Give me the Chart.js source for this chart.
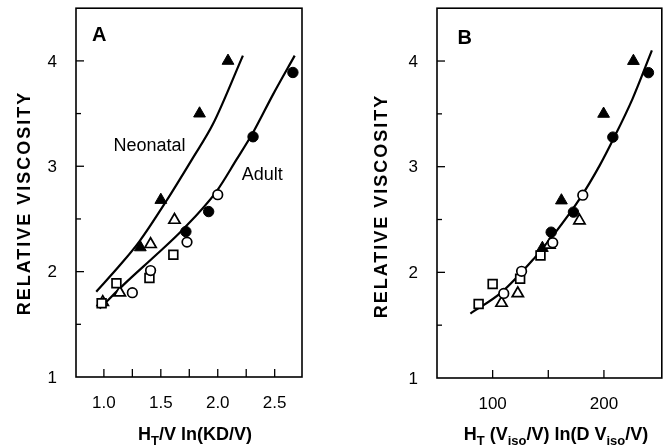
<!DOCTYPE html>
<html>
<head>
<meta charset="utf-8">
<script src="https://cdn.jsdelivr.net/npm/chart.js@4.4.0/dist/chart.umd.min.js"></script>
<style>
  html, body { margin: 0; padding: 0; background: #fff; }
  #wrap { position: relative; width: 670px; height: 447px; }
  canvas { position: absolute; top: 0; }
</style>
</head>
<body>
<div id="wrap">
  <canvas id="chartA" width="335" height="447" style="left:0"></canvas>
  <canvas id="chartB" width="335" height="447" style="left:335px"></canvas>
</div>
<script>
// Relative viscosity of each group (same points in both panels)
const filledTriY    = [2.23, 2.68, 3.50, 4.00];
const openTriY      = [1.71, 1.80, 2.26, 2.49];
const filledCircleY = [2.38, 2.57, 3.28, 3.89];
const openCircleY   = [1.80, 2.01, 2.28, 2.73];
const squareY       = [1.70, 1.89, 1.94, 2.16];

// Panel A: HT/V ln(KD/V)
const aFilledTriX    = [1.32, 1.50, 1.84, 2.09];
const aOpenTriX      = [0.99, 1.14, 1.41, 1.62];
const aFilledCircleX = [1.72, 1.92, 2.31, 2.66];
const aOpenCircleX   = [1.25, 1.41, 1.73, 2.00];
const aSquareX       = [0.98, 1.11, 1.40, 1.61];

// Panel A fitted curves
const neonatalX = [0.933, 1.14, 1.314, 1.548, 1.782, 1.958, 2.221];
const neonatalY = [1.81, 2.06, 2.29, 2.67, 3.08, 3.40, 4.05];
const adultX    = [0.962, 1.197, 1.46, 1.694, 1.988, 2.163, 2.31, 2.485, 2.676];
const adultY    = [1.65, 1.90, 2.16, 2.40, 2.76, 3.06, 3.32, 3.68, 4.05];

// Panel B: HT (Viso/V) ln(D Viso/V)
const bFilledTriX    = [144.7, 161.8, 199.7, 226.5];
const bOpenTriX      = [108.0, 122.6, 151.0, 178.0];
const bFilledCircleX = [152.6, 172.6, 208.0, 240.0];
const bOpenCircleX   = [110.0, 126.0, 154.0, 181.0];
const bSquareX       = [87.4, 100.0, 124.7, 143.0];

// Panel B fitted curve
const fitBX = [80.0, 107.9, 137.1, 155.1, 178.5, 196.1, 207.9, 225.6, 243.1];
const fitBY = [1.61, 1.81, 2.13, 2.36, 2.70, 3.01, 3.25, 3.64, 4.10];

// ticks
const yTicks  = [1, 1.5, 2, 2.5, 3, 3.5, 4];
const yLabels = [1, 2, 3, 4];
const aXTicks  = [1.0, 1.25, 1.5, 1.75, 2.0, 2.25, 2.5];
const aXLabels = [1.0, 1.5, 2.0, 2.5];
const bXTicks  = [100, 150, 200];
const bXLabels = [100, 200];

const FONT = "'Liberation Sans', Arial, Helvetica, sans-serif";

function pts(xs, ys) {
    return xs.map((x, i) => ({ x: x, y: ys[i] }));
}

function markerSets(xs) {
    // xs = [filledTri, openTri, filledCircle, openCircle, square]
    return [
        { data: pts(xs[3], openCircleY), pointStyle: 'circle', pointRadius: 4.8, backgroundColor: '#fff', borderColor: '#000', borderWidth: 1.7 },
        { data: pts(xs[4], squareY), pointStyle: 'rect', pointRadius: 6.2, backgroundColor: '#fff', borderColor: '#000', borderWidth: 1.7 },
        { data: pts(xs[1], openTriY), pointStyle: 'triangle', pointRadius: 6.5, backgroundColor: '#fff', borderColor: '#000', borderWidth: 1.7 },
        { data: pts(xs[2], filledCircleY), pointStyle: 'circle', pointRadius: 5.2, backgroundColor: '#000', borderColor: '#000', borderWidth: 1 },
        { data: pts(xs[0], filledTriY), pointStyle: 'triangle', pointRadius: 6.8, backgroundColor: '#000', borderColor: '#000', borderWidth: 1 }
    ].map(d => Object.assign(d, { order: 1 }));
}

function curveSet(xs, ys) {
    return {
        data: pts(xs, ys), showLine: true, pointRadius: 0, borderColor: '#000',
        borderWidth: 2.2, cubicInterpolationMode: 'monotone', order: 2
    };
}

// draws text with subscripts, centred at cx
function drawRich(ctx, parts, cx, cy, size) {
    const subSize = Math.round(size * 0.72);
    let total = 0;
    parts.forEach(p => {
        ctx.font = 'bold ' + (p.sub ? subSize : size) + 'px ' + FONT;
        p.w = ctx.measureText(p.t).width;
        total += p.w;
    });
    let x = cx - total / 2;
    ctx.textAlign = 'left';
    ctx.textBaseline = 'alphabetic';
    parts.forEach(p => {
        ctx.font = 'bold ' + (p.sub ? subSize : size) + 'px ' + FONT;
        ctx.fillText(p.t, x, cy + (p.sub ? size * 0.25 : 0));
        x += p.w;
    });
}

function decor(cfg) {
    return {
        id: 'decor',
        afterDraw(chart) {
            const { ctx, chartArea: a, scales: { x, y } } = chart;
            ctx.save();
            ctx.strokeStyle = '#000';
            ctx.fillStyle = '#000';
            ctx.lineWidth = 1.6;
            ctx.strokeRect(a.left, a.top, a.right - a.left, a.bottom - a.top);

            // inward tick marks
            ctx.lineWidth = 1.3;
            x.ticks.forEach(t => {
                const px = x.getPixelForValue(t.value);
                ctx.beginPath();
                ctx.moveTo(px, a.bottom);
                ctx.lineTo(px, a.bottom - 8);
                ctx.stroke();
            });
            y.ticks.forEach(t => {
                if (t.value === 1) return;
                const py = y.getPixelForValue(t.value);
                const len = yLabels.includes(t.value) ? 8 : 5;
                ctx.beginPath();
                ctx.moveTo(a.left, py);
                ctx.lineTo(a.left + len, py);
                ctx.stroke();
            });

            // y tick labels, right aligned off the frame
            ctx.font = '17px ' + FONT;
            ctx.textAlign = 'right';
            ctx.textBaseline = 'middle';
            yLabels.forEach(v => {
                ctx.fillText(String(v), a.left - 19, y.getPixelForValue(v) + 1);
            });

            // y title
            ctx.save();
            ctx.translate(cfg.yTitleX, cfg.yTitleY);
            ctx.rotate(-Math.PI / 2);
            ctx.font = 'bold 18px ' + FONT;
            ctx.letterSpacing = '2px';
            ctx.textAlign = 'center';
            ctx.textBaseline = 'middle';
            ctx.fillText('RELATIVE VISCOSITY', 0, 0);
            ctx.restore();

            // x title
            drawRich(ctx, cfg.xTitle, cfg.xTitleX, 440, 18);

            // panel letters and curve labels
            ctx.textAlign = 'center';
            ctx.textBaseline = 'middle';
            cfg.labels.forEach(l => {
                ctx.font = (l.bold ? 'bold ' : '') + l.size + 'px ' + FONT;
                ctx.fillText(l.text, x.getPixelForValue(l.x), y.getPixelForValue(l.y));
            });
            ctx.restore();
        }
    };
}

function makeChart(id, opt) {
    return new Chart(document.getElementById(id), {
        type: 'scatter',
        data: { datasets: opt.datasets },
        options: {
            responsive: false,
            animation: false,
            layout: { padding: opt.padding },
            plugins: { legend: { display: false }, tooltip: { enabled: false } },
            scales: {
                x: {
                    type: 'linear', min: opt.xMin, max: opt.xMax,
                    afterBuildTicks: s => { s.ticks = opt.xTicks.map(v => ({ value: v })); },
                    afterFit: s => { s.height = opt.xHeight; s.paddingLeft = 0; s.paddingRight = 0; },
                    grid: { display: false },
                    border: { display: false },
                    ticks: {
                        autoSkip: false, maxRotation: 0, padding: 8, color: '#000',
                        font: { family: FONT, size: 17 },
                        callback: v => opt.xLabels.includes(v) ? opt.xFmt(v) : ''
                    }
                },
                y: {
                    type: 'linear', min: 1, max: 4.5,
                    afterBuildTicks: s => { s.ticks = yTicks.map(v => ({ value: v })); },
                    afterFit: s => { s.width = opt.yWidth; s.paddingTop = 0; s.paddingBottom = 0; },
                    grid: { display: false },
                    border: { display: false },
                    ticks: { display: false }
                }
            }
        },
        plugins: [decor(opt.decor)]
    });
}

makeChart('chartA', {
    datasets: [curveSet(neonatalX, neonatalY), curveSet(adultX, adultY)]
        .concat(markerSets([aFilledTriX, aOpenTriX, aFilledCircleX, aOpenCircleX, aSquareX])),
    padding: { top: 7, right: 33, left: 0, bottom: 0 },
    xMin: 0.755, xMax: 2.74, xTicks: aXTicks, xLabels: aXLabels, xFmt: v => v.toFixed(1),
    xHeight: 70, yWidth: 76,
    decor: {
        yTitleX: 25, yTitleY: 203, xTitleX: 195,
        xTitle: [{ t: 'H' }, { t: 'T', sub: true }, { t: '/V ln(KD/V)' }],
        labels: [
            { text: 'A', x: 0.96, y: 4.24, size: 20, bold: true },
            { text: 'Neonatal', x: 1.40, y: 3.19, size: 18 },
            { text: 'Adult', x: 2.39, y: 2.92, size: 18 }
        ]
    }
});

makeChart('chartB', {
    datasets: [curveSet(fitBX, fitBY)]
        .concat(markerSets([bFilledTriX, bOpenTriX, bFilledCircleX, bOpenCircleX, bSquareX])),
    padding: { top: 8, right: 3, left: 0, bottom: 0 },
    xMin: 50, xMax: 252, xTicks: bXTicks, xLabels: bXLabels, xFmt: v => String(v),
    xHeight: 69, yWidth: 102,
    decor: {
        yTitleX: 47, yTitleY: 206, xTitleX: 221,
        xTitle: [{ t: 'H' }, { t: 'T', sub: true }, { t: ' (V' }, { t: 'iso', sub: true },
                 { t: '/V) ln(D V' }, { t: 'iso', sub: true }, { t: '/V)' }],
        labels: [
            { text: 'B', x: 75, y: 4.21, size: 20, bold: true }
        ]
    }
});
</script>
</body>
</html>
